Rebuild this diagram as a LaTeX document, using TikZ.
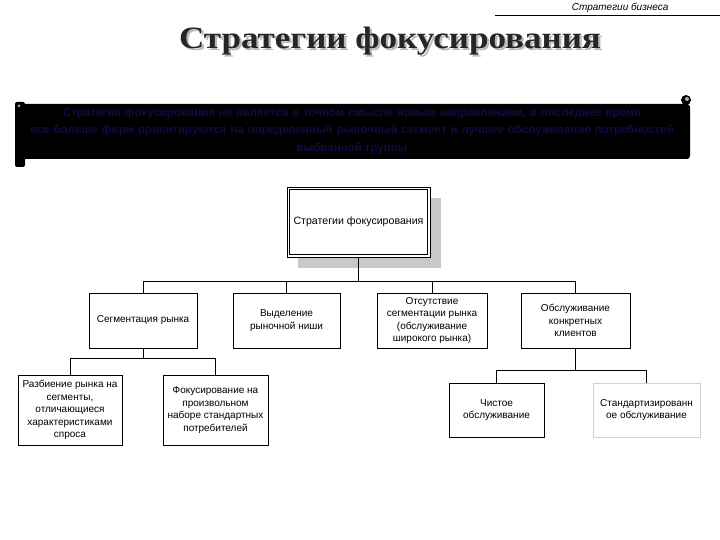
\documentclass[tikz,border=0pt]{standalone}
\usepackage{fontspec}
\setmainfont{Liberation Sans}
\newfontfamily\titlefont{Liberation Serif}
\usetikzlibrary{calc}

\definecolor{bannerblue}{RGB}{16,12,66}
\definecolor{shadowgray}{RGB}{200,200,200}

\tikzset{
  box/.style={draw, line width=0.6pt, fill=white, align=center, inner sep=1pt,
    font=\fontsize{10}{12.5}\selectfont},
  link/.style={line width=0.6pt},
}

\begin{document}
\begin{tikzpicture}[x=1pt, y=-1pt]

    \useasboundingbox (0,0) rectangle (720,540);

    % шапка
    \node[font=\fontsize{10}{11}\selectfont\itshape, anchor=east] (head) at (672,8) {Стратегии бизнеса};
    \draw[line width=0.8pt] (495,15) -- (720,15);

    % заголовок с тенью
    \node[font=\titlefont\bfseries\fontsize{31}{31}\selectfont, text=black!85] (title) at (390,42)
      {\scalebox{1.13}[1]{\rlap{\kern2pt\raisebox{-2pt}{\color{gray!55}Стратегии фокусирования}}Стратегии фокусирования}};

    % черная лента
    \fill[black, rounded corners=3pt] (22,104) rectangle (690,159);
    \fill[black, rounded corners=2pt] (15,102) rectangle (25,167);
    \fill[black] (686,100) circle (5);
    \fill[gray!60] (687,99) circle (2);
    \fill[gray!70] (19,106) circle (1.5);
    \node[font=\fontsize{11.5}{17.5}\selectfont\bfseries, text=bannerblue, align=center, text width=670pt] (banner) at (352,131)
      {Стратегия фокусирования не является в точном смысле новым направлением, в последнее время\\
       все больше фирм ориентируются на определенный рыночный сегмент и лучшее обслуживание потребностей\\
       выбранной группы};

    % верхний блок
    \fill[shadowgray] (298,198) rectangle (441,268);
    \node[draw, line width=0.6pt, fill=white, minimum width=143pt, minimum height=70pt,
      font=\fontsize{10.6}{12}\selectfont] (top) at (358.5,222) {Стратегии фокусирования};
    \draw[line width=0.6pt] ([shift={(3,3)}]top.north west) rectangle ([shift={(-3,-3)}]top.south east);

    % второй уровень
    \node[box, minimum width=108pt, minimum height=55pt] (seg) at (143,320.5) {Сегментация рынка};
    \node[box, minimum width=107pt, minimum height=55pt] (niche) at (286.5,320.5) {Выделение\\рыночной ниши};
    \node[box, minimum width=110pt, minimum height=55pt] (nosegm) at (432,320.5) {Отсутствие\\сегментации рынка\\(обслуживание\\широкого рынка)};
    \node[box, minimum width=109pt, minimum height=55pt] (serve) at (575.5,320.5) {Обслуживание\\конкретных\\клиентов};

    % третий уровень
    \node[box, minimum width=104pt, minimum height=70pt] (split) at (70,410) {Разбиение рынка на\\сегменты,\\отличающиеся\\характеристиками\\спроса};
    \node[box, minimum width=105pt, minimum height=70pt] (focus) at (215.5,410) {Фокусирование на\\произвольном\\наборе стандартных\\потребителей};
    \node[box, minimum width=95pt, minimum height=54pt] (pure) at (496.5,410) {Чистое\\обслуживание};
    \node[box, draw=gray!35, minimum width=107pt, minimum height=54pt] (std) at (646.5,410) {Стандартизированн\\ое обслуживание};

    % связи
    \coordinate (bus1) at (0,281);
    \coordinate (bus2) at (0,358);
    \coordinate (bus3) at (0,370);
    \draw[link] (top.south) -- (top.south |- bus1);
    \draw[link] (seg.north) -- (seg.north |- bus1) -| (serve.north);
    \draw[link] (niche.north) -- (niche.north |- bus1);
    \draw[link] (nosegm.north) -- (nosegm.north |- bus1);
    \draw[link] (seg.south) -- (seg.south |- bus2);
    \draw[link] (split.north) -- (split.north |- bus2) -| (focus.north);
    \draw[link] (serve.south) -- (serve.south |- bus3);
    \draw[link] (pure.north) -- (pure.north |- bus3) -| (std.north);

\end{tikzpicture}
\end{document}
